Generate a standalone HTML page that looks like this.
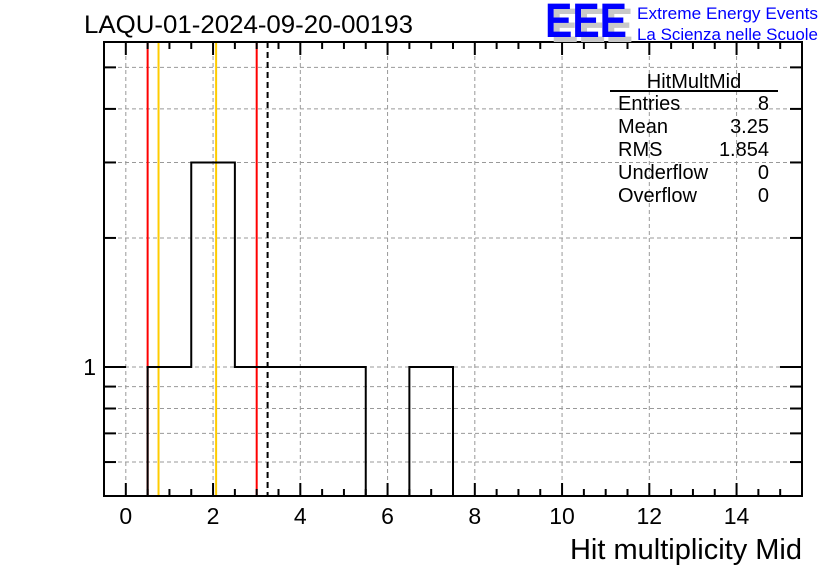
<!DOCTYPE html>
<html><head><meta charset="utf-8"><style>
body{margin:0;background:#fff;}
svg text{font-family:"Liberation Sans",sans-serif;}
</style></head><body>
<svg width="836" height="572" xmlns="http://www.w3.org/2000/svg">
<rect width="836" height="572" fill="#fff"/>
<g id="grid"></g>
<g id="lines"></g>
<g id="hist"></g>
<g id="axes"></g>
<text x="84" y="33" font-size="25" textLength="329" lengthAdjust="spacingAndGlyphs">LAQU-01-2024-09-20-00193</text>
<g>
<text x="551" y="42" font-size="48" font-weight="bold" fill="#c8c8c8" textLength="82" lengthAdjust="spacingAndGlyphs">EEE</text>
<text x="545" y="37" font-size="48" font-weight="bold" fill="#0000ff" textLength="82" lengthAdjust="spacingAndGlyphs">EEE</text>
<text x="637" y="19" font-size="17" fill="#0000ff" textLength="181" lengthAdjust="spacingAndGlyphs">Extreme Energy Events</text>
<text x="637" y="40" font-size="17" fill="#0000ff" textLength="181" lengthAdjust="spacingAndGlyphs">La Scienza nelle Scuole</text>
</g>
<g font-size="20">
<text x="694" y="88" text-anchor="middle" font-size="20">HitMultMid</text>
<line x1="610" y1="91" x2="778" y2="91" stroke="#000" stroke-width="2"/>
<text x="618" y="110">Entries</text><text x="769" y="110" text-anchor="end">8</text>
<text x="618" y="133">Mean</text><text x="769" y="133" text-anchor="end">3.25</text>
<text x="618" y="156">RMS</text><text x="769" y="156" text-anchor="end">1.854</text>
<text x="618" y="179">Underflow</text><text x="769" y="179" text-anchor="end">0</text>
<text x="618" y="202">Overflow</text><text x="769" y="202" text-anchor="end">0</text>
</g>
<text x="802" y="559" font-size="29" text-anchor="end">Hit multiplicity Mid</text>
</svg>
<script>
const binCenters=[1,2,3,4,5,6,7];
const binCounts=[1,3,1,1,1,0,1];
const xTickLabels=[0,2,4,6,8,10,12,14];
const yMinorTicks=[0.6,0.7,0.8,0.9,2,3,4,5];
const yMajorTicks=[1];
const redLines=[0.5,3.0];
const orangeLines=[0.75,2.07];
const meanLine=[3.25];
const X0=104,X1=802,Y0=42,Y1=496;
const xmin=-0.5,xmax=15.5,ymin=0.5,ymax=5.73;
const sx=v=>X0+(v-xmin)/(xmax-xmin)*(X1-X0);
const sy=v=>Y1-(Math.log10(v)-Math.log10(ymin))/(Math.log10(ymax)-Math.log10(ymin))*(Y1-Y0);
const NS='http://www.w3.org/2000/svg';
function mk(p,t,a){const e=document.createElementNS(NS,t);for(const k in a)e.setAttribute(k,a[k]);p.appendChild(e);return e;}
const G=document.getElementById('grid'),L=document.getElementById('lines'),H=document.getElementById('hist'),A=document.getElementById('axes');
xTickLabels.forEach(v=>{const e=mk(G,'line',{x1:sx(v),x2:sx(v),y1:Y0,y2:Y1,stroke:'#999','stroke-dasharray':'4,3'});

});
yMinorTicks.concat(yMajorTicks).forEach(v=>{const e=mk(G,'line',{x1:X0,x2:X1,y1:sy(v),y2:sy(v),stroke:'#999','stroke-dasharray':'4,3'});

});
redLines.forEach(v=>{const e=mk(L,'line',{x1:sx(v),x2:sx(v),y1:Y0,y2:Y1,stroke:'#ff0000','stroke-width':2});

});
orangeLines.forEach(v=>{const e=mk(L,'line',{x1:sx(v),x2:sx(v),y1:Y0,y2:Y1,stroke:'#ffcc00','stroke-width':2});

});
meanLine.forEach(v=>{const e=mk(L,'line',{x1:sx(v),x2:sx(v),y1:Y0,y2:Y1,stroke:'#000','stroke-width':2,'stroke-dasharray':'6,4'});

});
let d='',prev=null;
binCenters.forEach((c,i)=>{const n=binCounts[i];const yy=n>0?sy(n):Y1;const xl=sx(c-0.5),xr=sx(c+0.5);
if(prev===null)d+=`M${xl},${Y1}`;d+=` L${xl},${yy} L${xr},${yy}`;prev=yy;});
d+=` L${sx(binCenters[binCenters.length-1]+0.5)},${Y1}`;
const hp=mk(H,'path',{d:d,fill:'none',stroke:'#000','stroke-width':2});


const fr=mk(A,'rect',{x:X0,y:Y0,width:X1-X0,height:Y1-Y0,fill:'none',stroke:'#000','stroke-width':2});


for(let v=0;v<=15;v+=0.5){const maj=Math.abs(v%2)<1e-9;const len=maj?13:7;
mk(A,'line',{x1:sx(v),x2:sx(v),y1:Y1,y2:Y1-len,stroke:'#000','stroke-width':2});
mk(A,'line',{x1:sx(v),x2:sx(v),y1:Y0,y2:Y0+len,stroke:'#000','stroke-width':2});}
xTickLabels.forEach(v=>{const t=mk(A,'text',{x:sx(v),y:Y1+28,'font-size':23,'text-anchor':'middle'});t.textContent=v;

});
yMinorTicks.forEach(v=>{mk(A,'line',{x1:X0,x2:X0+12,y1:sy(v),y2:sy(v),stroke:'#000','stroke-width':2});
mk(A,'line',{x1:X1,x2:X1-12,y1:sy(v),y2:sy(v),stroke:'#000','stroke-width':2});});
yMajorTicks.forEach(v=>{mk(A,'line',{x1:X0,x2:X0+22,y1:sy(v),y2:sy(v),stroke:'#000','stroke-width':2});
mk(A,'line',{x1:X1,x2:X1-22,y1:sy(v),y2:sy(v),stroke:'#000','stroke-width':2});
const t=mk(A,'text',{x:X0-8,y:sy(v)+8,'font-size':23,'text-anchor':'end'});t.textContent=v;

});
</script>
</body></html>
